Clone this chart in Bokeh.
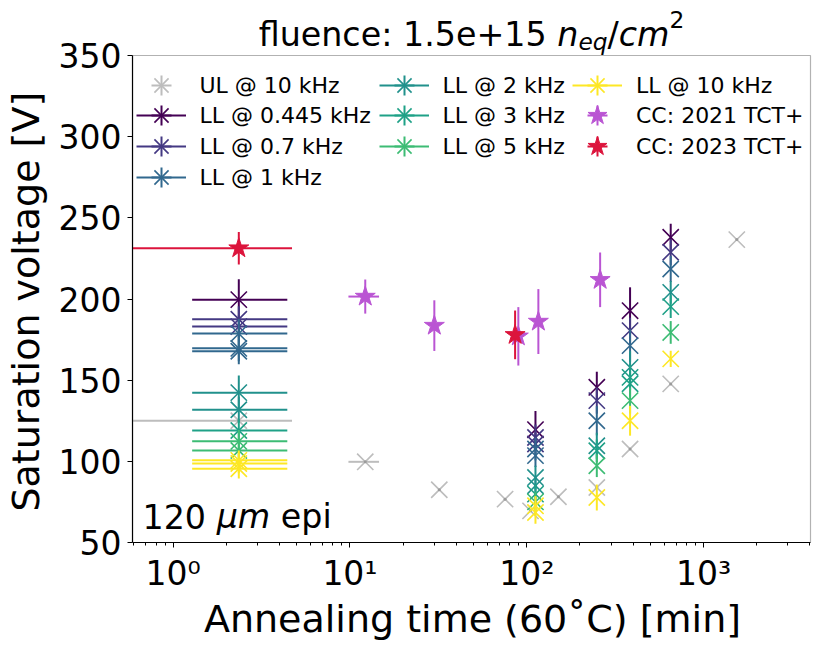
import math
from bokeh.plotting import figure
from bokeh.models import (ColumnDataSource, Range1d, FixedTicker, LogTicker, Label,
                          Legend, LegendItem, CustomJSTickFormatter, BoxAnnotation)
from bokeh.embed import file_html
from bokeh.resources import INLINE

FONT = "DejaVu Sans"
NAN = float("nan")

# ---------------- data ----------------
# UL @ 10 kHz (grey)
t_ul = [2.35, 12.2, 32.0, 75.4, 105.0, 151.0, 249.0, 384.0, 652.0, 1542.0]
v_ul = [125.0, 99.7, 82.5, 76.7, 69.5, 78.2, 83.9, 107.6, 147.7, 236.6]
e_ul = [0, 0, 0, 0, 0, 0, 0, 0, 0, 0]
xlo_ul = [2.35, 2.4, 0, 0, 0, 0, 0, 0, 0, 0]
xhi_ul = [2.35, 2.4, 0, 0, 0, 0, 0, 0, 0, 0]

# LL series (t [min], V_sat [V], error [V])
t_ll_0445 = [2.35, 112, 249, 384, 652]
v_ll_0445 = [199.6, 119.5, 145.6, 192.8, 238.0]
e_ll_0445 = [12.5, 11.5, 9.6, 14.4, 8.3]

t_ll_07 = [2.35, 2.35, 112, 112, 249, 384, 652]
v_ll_07 = [187.5, 183.0, 114.7, 110.7, 137.4, 180.5, 228.8]
e_ll_07 = [8, 7, 8, 7, 8, 8, 8]

t_ll_1 = [2.35, 2.35, 2.35, 112, 112, 249, 384, 652]
v_ll_1 = [178.7, 169.6, 167.8, 107.6, 103.5, 125.0, 171.3, 218.5]
e_ll_1 = [9, 8, 8, 7, 7, 9, 10, 8]

t_ll_2 = [2.35, 2.35, 112, 112, 249, 384, 652]
v_ll_2 = [142.3, 131.8, 90.0, 85.0, 109.6, 157.9, 204.1]
e_ll_2 = [10.5, 8, 7.3, 6, 8, 10, 7]

t_ll_3 = [2.35, 112, 249, 384, 384, 652]
v_ll_3 = [119.0, 79.8, 106.5, 151.7, 147.8, 195.3]
e_ll_3 = [7, 6, 7, 8, 8, 7]

t_ll_5 = [2.35, 2.35, 112, 249, 384, 652]
v_ll_5 = [112.3, 106.7, 75.0, 97.3, 137.4, 179.4]
e_ll_5 = [7, 7, 6, 7, 8, 7]

t_ll_10 = [2.35, 2.35, 2.35, 112, 112, 249, 384, 652]
v_ll_10 = [100.6, 98.7, 95.4, 72.6, 68.5, 77.7, 125.0, 163.1]
e_ll_10 = [6, 6, 6, 6, 7, 8, 9.2, 5]

# horizontal error of the first LL time point (t = 2.35 min)
ll_t0 = 2.35
ll_t0_xlo = 1.07
ll_t0_xhi = 2.07

ll_labels = ["LL @ 0.445 kHz", "LL @ 0.7 kHz", "LL @ 1 kHz", "LL @ 2 kHz",
             "LL @ 3 kHz", "LL @ 5 kHz", "LL @ 10 kHz"]
ll_colors = ["#440154", "#443983", "#31688e", "#21918c", "#1fa187", "#3dbc74", "#fde725"]

# CC measurements
t_cc21 = [12.2, 30.0, 89.6, 116.3, 260.0]
v_cc21 = [201.5, 183.6, 177.0, 186.1, 211.8]
e_cc21 = [10.5, 15.6, 18.0, 20.0, 16.8]
xerr_cc21 = [2.4, 0, 0, 0, 0]

t_cc23 = [2.35, 85.9]
v_cc23 = [231.3, 177.9]
e_cc23 = [10.0, 15.0]
xerr_cc23 = [2.35, 0]

y_ticks = [50, 100, 150, 200, 250, 300, 350]
y_min, y_max = 50, 350
x_min, x_max = 0.5885, 4027.0

# ---------------- layout geometry ----------------
AX_W, AX_H = 678, 487          # axes box in pixels
TOP_PAD = 55                   # room above the axes box (title) kept inside the frame
RIGHT_PAD = 2
v_per_px = (y_max - y_min) / AX_H
dec_per_px = (math.log10(x_max) - math.log10(x_min)) / AX_W
FRAME_H = AX_H + TOP_PAD
FRAME_W = AX_W + RIGHT_PAD

p = figure(frame_width=FRAME_W, frame_height=FRAME_H, x_axis_type="log",
           x_range=Range1d(x_min, x_max * 10 ** (RIGHT_PAD * dec_per_px)),
           y_range=Range1d(y_min, y_max + TOP_PAD * v_per_px),
           output_backend="svg", toolbar_location=None,
           min_border_left=128, min_border_right=7, min_border_top=0, min_border_bottom=100)
p.xgrid.visible = False
p.ygrid.visible = False
p.outline_line_color = None
p.background_fill_color = "white"
p.border_fill_color = "white"

# axes box
p.add_layout(BoxAnnotation(left=x_min, right=x_max, bottom=y_min, top=y_max,
                           fill_alpha=0, line_color="black", line_width=1.2,
                           level="underlay"))

p.yaxis.ticker = FixedTicker(ticks=y_ticks, minor_ticks=[])
p.yaxis.bounds = (y_min, y_max)
p.xaxis.ticker = LogTicker(num_minor_ticks=10)
p.xaxis.bounds = (x_min, x_max)
p.xaxis.formatter = CustomJSTickFormatter(code="""
const sup = {"-":"\u207b","0":"\u2070","1":"\u00b9","2":"\u00b2","3":"\u00b3","4":"\u2074",
             "5":"\u2075","6":"\u2076","7":"\u2077","8":"\u2078","9":"\u2079"};
const e = Math.round(Math.log10(tick));
return "10" + String(e).split("").map(c => sup[c]).join("");
""")
for ax in (p.xaxis[0], p.yaxis[0]):
    ax.major_label_text_font = FONT
    ax.major_label_text_font_size = "33px"
    ax.major_label_text_color = "black"
    ax.axis_label_text_font = FONT
    ax.axis_label_text_font_size = "38px"
    ax.axis_label_text_font_style = "normal"
    ax.axis_label_text_color = "black"
    ax.axis_line_color = "black"
    ax.axis_line_width = 1.2
    ax.major_tick_line_color = "black"
    ax.minor_tick_line_color = "black"
    ax.major_tick_in = 0
    ax.major_tick_out = 5
    ax.minor_tick_in = 0
    ax.minor_tick_out = 3
    ax.major_label_standoff = 6
p.xaxis.axis_label_standoff = 1
p.yaxis.axis_label_standoff = 8
p.xaxis.axis_label = "Annealing time (60˚C) [min]"
# trailing no-break spaces centre the label on the axes box rather than on the taller frame
p.yaxis.axis_label = "Saturation voltage [V]" + "\u00a0" * 5

MS_X = 23     # "x" marker size
MS_STAR = 21


def draw_series(t, v, ey, xlo, xhi, color, marker, size, lw=1.6, center=None):
    src = ColumnDataSource(dict(t=t, v=v,
                                lo=[a - b for a, b in zip(v, ey)],
                                hi=[a + b for a, b in zip(v, ey)]))
    p.segment(x0="t", y0="lo", x1="t", y1="hi", source=src,
              line_color=color, line_width=2)
    idx = [i for i in range(len(t)) if xlo[i] > 0 or xhi[i] > 0]
    if idx:
        hs = ColumnDataSource(dict(
            x0=[max(t[i] - xlo[i], 1e-3) for i in idx],
            x1=[t[i] + xhi[i] for i in idx],
            y=[v[i] for i in idx]))
        p.segment(x0="x0", y0="y", x1="x1", y1="y", source=hs,
                  line_color=color, line_width=2)
    p.scatter("t", "v", source=src, marker=marker, size=size,
              line_color=color, fill_color=color, line_width=lw)
    if center:
        p.scatter("t", "v", source=src, marker="circle", size=3,
                  line_color=None, fill_color=center)


# UL
draw_series(t_ul, v_ul, e_ul, xlo_ul, xhi_ul, "#bdbdbd", "x", MS_X, center="#9a9a9a")

# LL
ll_t = [t_ll_0445, t_ll_07, t_ll_1, t_ll_2, t_ll_3, t_ll_5, t_ll_10]
ll_v = [v_ll_0445, v_ll_07, v_ll_1, v_ll_2, v_ll_3, v_ll_5, v_ll_10]
ll_e = [e_ll_0445, e_ll_07, e_ll_1, e_ll_2, e_ll_3, e_ll_5, e_ll_10]
for t, v, e, c in zip(ll_t, ll_v, ll_e, ll_colors):
    xlo = [ll_t0_xlo if ti == ll_t0 else 0 for ti in t]
    xhi = [ll_t0_xhi if ti == ll_t0 else 0 for ti in t]
    draw_series(t, v, e, xlo, xhi, c, "x", MS_X)

# CC
draw_series(t_cc21, v_cc21, e_cc21, xerr_cc21, xerr_cc21, "#ba55d3", "star", MS_STAR, lw=1)
draw_series(t_cc23, v_cc23, e_cc23, xerr_cc23, xerr_cc23, "#dc143c", "star", MS_STAR, lw=1)

# ---------------- legend (legend-only renderers, not drawn in the plot) ----------------
def legend_renderers(color, marker, hline):
    rs = []
    if hline:
        rs.append(p.segment(x0=[NAN], y0=[NAN], x1=[NAN], y1=[NAN],
                            line_color=color, line_width=2))
    rs.append(p.scatter(x=[NAN], y=[NAN], marker="cross", size=10,
                        line_color=color, line_width=2))
    rs.append(p.scatter(x=[NAN], y=[NAN], marker=marker, size=10, line_color=color,
                        fill_color=color, line_width=1.6 if marker == "x" else 1))
    return rs


entries = [("UL @ 10 kHz", "#bdbdbd", "x", False)]
entries += [(lab, c, "x", True) for lab, c in zip(ll_labels, ll_colors)]
entries += [("CC: 2021 TCT+", "#ba55d3", "star", False),
            ("CC: 2023 TCT+", "#dc143c", "star", False)]

GW = 50                                   # legend glyph box
row_centers = [85, 115, 146, 177]         # px below the top of the page
col_glyph_centers = [157.5, 400.5, 594]   # px from the left of the page
col_of = [0, 0, 0, 0, 1, 1, 1, 2, 2, 2]
row_of = [0, 1, 2, 3, 0, 1, 2, 0, 1, 2]
FRAME_LEFT_PAGE = 129
for (lab, c, mk, hl), ci, ri in zip(entries, col_of, row_of):
    lx = col_glyph_centers[ci] - FRAME_LEFT_PAGE - GW / 2
    ly = FRAME_H - row_centers[ri] - GW / 2
    lg = Legend(items=[LegendItem(label=lab, renderers=legend_renderers(c, mk, hl))],
                location=(lx, ly), orientation="vertical",
                glyph_width=GW, glyph_height=GW, spacing=0, padding=0, margin=0,
                label_standoff=14, label_text_font=FONT, label_text_font_size="22px",
                label_text_color="black", border_line_alpha=0, background_fill_alpha=0,
                label_height=24)
    p.add_layout(lg)

# ---------------- text annotations ----------------
def add_text(x, y, text, size, style="normal"):
    p.add_layout(Label(x=x, y=y, x_units="screen", y_units="screen", text=text,
                       text_font=FONT, text_font_size=f"{size}px", text_font_style=style,
                       text_baseline="alphabetic", text_align="left", text_color="black"))

# title: fluence: 1.5e+15 n_eq/cm^2
F = 33.3
tx = AX_W / 2 - 12.781 * F / 2
ty = FRAME_H - 34
add_text(tx, ty, "fluence: 1.5e+15", F)
x = tx + 8.966 * F
add_text(x, ty, "n", F, "italic")
x += 0.634 * F
add_text(x, ty - 0.22 * F, "eq", 0.7 * F, "italic")
x += 0.875 * F
add_text(x, ty, "/", F)
x += 0.337 * F
add_text(x, ty, "cm", F, "italic")
x += 1.524 * F
add_text(x, ty + 0.45 * F, "2", 0.7 * F)

# 120 um epi
G = 33.3
EPI_X, EPI_Y = 10, 26
add_text(EPI_X, EPI_Y, "120", G)
add_text(EPI_X + 2.226 * G, EPI_Y, "\u03bcm", G, "italic")
add_text(EPI_X + 4.154 * G, EPI_Y, "epi", G)

open("out.html", "w").write(file_html(p, INLINE))
